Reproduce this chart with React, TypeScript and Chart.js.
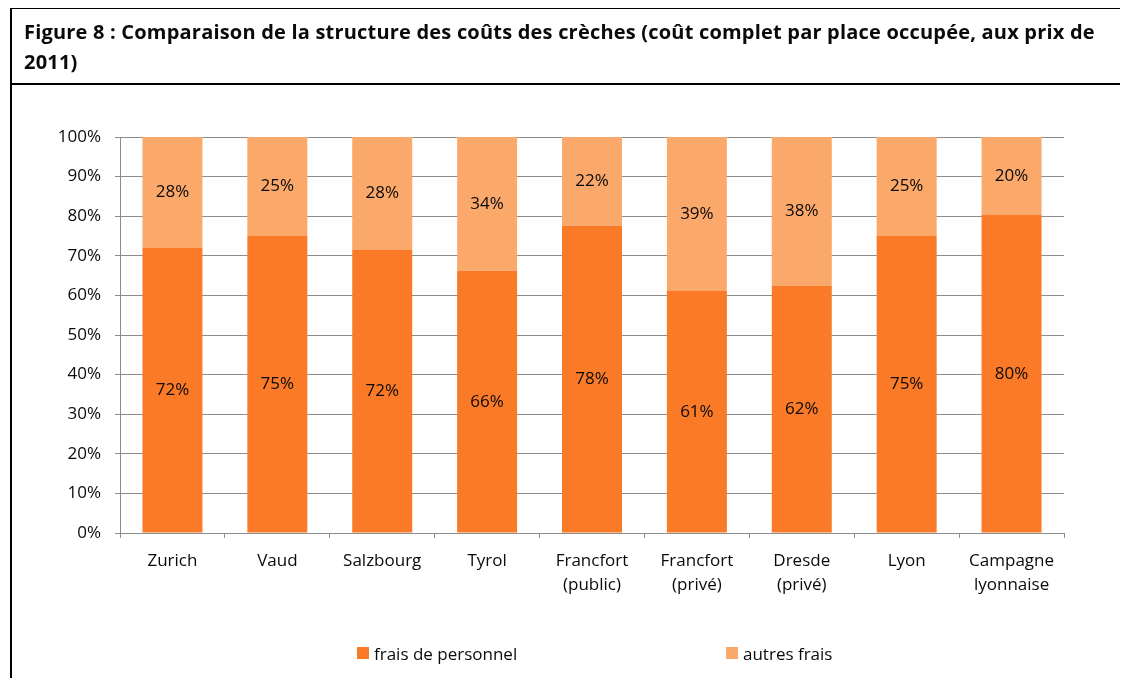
import React, { useEffect, useRef } from "react";
import { Chart, registerables } from "chart.js";

Chart.register(...registerables);

const categories: string[][] = [
  ["Zurich"],
  ["Vaud"],
  ["Salzbourg"],
  ["Tyrol"],
  ["Francfort", "(public)"],
  ["Francfort", "(privé)"],
  ["Dresde", "(privé)"],
  ["Lyon"],
  ["Campagne", "lyonnaise"],
];
const fraisPersonnel = [72, 75, 71.6, 66.2, 77.6, 61.1, 62.4, 75, 80.3];
const autresFrais = [28, 25, 28.4, 33.8, 22.4, 38.9, 37.6, 25, 19.7];
const seriesNames = ["frais de personnel", "autres frais"];
const yTicks = [0, 10, 20, 30, 40, 50, 60, 70, 80, 90, 100];
const titleLines = [
  "Figure 8 : Comparaison de la structure des coûts des crèches (coût complet par place occupée, aux prix de",
  "2011)",
];

const DARK = "#FA7A28";
const LIGHT = "#FBA96B";
const GRID = "#8C8C8C";
const FONT = "'Open Sans', sans-serif";
const FS = 17;

const labelPlugin = {
  id: "segmentLabels",
  afterDatasetsDraw(chart: any) {
    const ctx = chart.ctx;
    ctx.save();
    ctx.font = `${FS}px ${FONT}`;
    ctx.fillStyle = "#0a0a0a";
    ctx.textAlign = "center";
    ctx.textBaseline = "middle";
    chart.data.datasets.forEach((ds: any, di: number) => {
      const meta = chart.getDatasetMeta(di);
      meta.data.forEach((el: any, i: number) => {
        const v = ds.data[i];
        const y = (el.y + el.base) / 2;
        ctx.fillText(`${Math.round(v)}%`, el.x, y);
      });
    });
    ctx.restore();
  },
};

export default function App() {
  const ref = useRef<HTMLCanvasElement | null>(null);
  useEffect(() => {
    if (!ref.current) return;
    const chart = new Chart(ref.current, {
      type: "bar",
      data: {
        labels: categories,
        datasets: [
          {
            label: seriesNames[0],
            data: fraisPersonnel,
            backgroundColor: DARK,
            barPercentage: 0.572,
            categoryPercentage: 1,
          },
          {
            label: seriesNames[1],
            data: autresFrais,
            backgroundColor: LIGHT,
            barPercentage: 0.572,
            categoryPercentage: 1,
          },
        ],
      },
      options: {
        responsive: false,
        animation: false,
        devicePixelRatio: 1,
        layout: { padding: { top: 51, right: 64, bottom: 53, left: 0 } },
        plugins: {
          legend: { display: false },
          tooltip: { enabled: false },
          title: { display: false },
        },
        scales: {
          x: {
            stacked: true,
            afterFit: (s: any) => {
              s.height = 100;
            },
            grid: {
              drawOnChartArea: false,
              drawTicks: true,
              tickLength: 5,
              color: GRID,
              offset: true,
            },
            border: { display: true, color: GRID, width: 1 },
            ticks: {
              color: "#0a0a0a",
              font: { family: FONT, size: FS, lineHeight: 1.42 },
              padding: 11,
              maxRotation: 0,
              autoSkip: false,
            },
          },
          y: {
            stacked: true,
            min: 0,
            max: 100,
            afterFit: (s: any) => {
              s.width = 120;
            },
            afterBuildTicks: (s: any) => {
              s.ticks = yTicks.map((v) => ({ value: v }));
            },
            grid: {
              color: GRID,
              tickLength: 5,
              drawTicks: true,
            },
            border: { display: true, color: GRID, width: 1 },
            ticks: {
              color: "#0a0a0a",
              font: { family: FONT, size: FS },
              padding: 14,
              callback: (v: any) => `${v}%`,
            },
          },
        },
      },
      plugins: [labelPlugin],
    });
    return () => chart.destroy();
  }, []);

  const legendItem = (left: number, color: string, text: string) => (
    <div
      style={{
        position: "absolute",
        left,
        top: 642,
        height: 22,
        display: "flex",
        alignItems: "center",
        fontFamily: FONT,
        fontSize: FS,
        color: "#0a0a0a",
        whiteSpace: "nowrap",
      }}
    >
      <span
        style={{
          display: "inline-block",
          width: 12,
          height: 12,
          background: color,
          marginRight: 5,
        }}
      />
      <span>{text}</span>
    </div>
  );

  return (
    <div style={{ position: "relative", width: 1128, height: 686, margin: -8, overflow: "hidden", background: "#fff" }}>
      <canvas
        ref={ref}
        width={1128}
        height={600}
        style={{ position: "absolute", left: 0, top: 86, width: 1128, height: 600 }}
      />
      <div
        style={{
          position: "absolute",
          left: 10,
          top: 7,
          width: 1200,
          height: 720,
          borderLeft: "2px solid #000",
          borderTop: "2px solid #000",
          pointerEvents: "none",
        }}
      />
      <div
        style={{
          position: "absolute",
          left: 10,
          top: 83,
          width: 1200,
          height: 0,
          borderTop: "2px solid #000",
        }}
      />
      <div
        style={{
          position: "absolute",
          left: 24,
          top: 17,
          fontFamily: FONT,
          fontWeight: 700,
          fontSize: 20,
          letterSpacing: 0.2,
          lineHeight: "30px",
          color: "#0a0a0a",
          whiteSpace: "nowrap",
        }}
      >
        {titleLines[0]}
        <br />
        {titleLines[1]}
      </div>
      {legendItem(357, DARK, seriesNames[0])}
      {legendItem(726, LIGHT, seriesNames[1])}
    </div>
  );
}
